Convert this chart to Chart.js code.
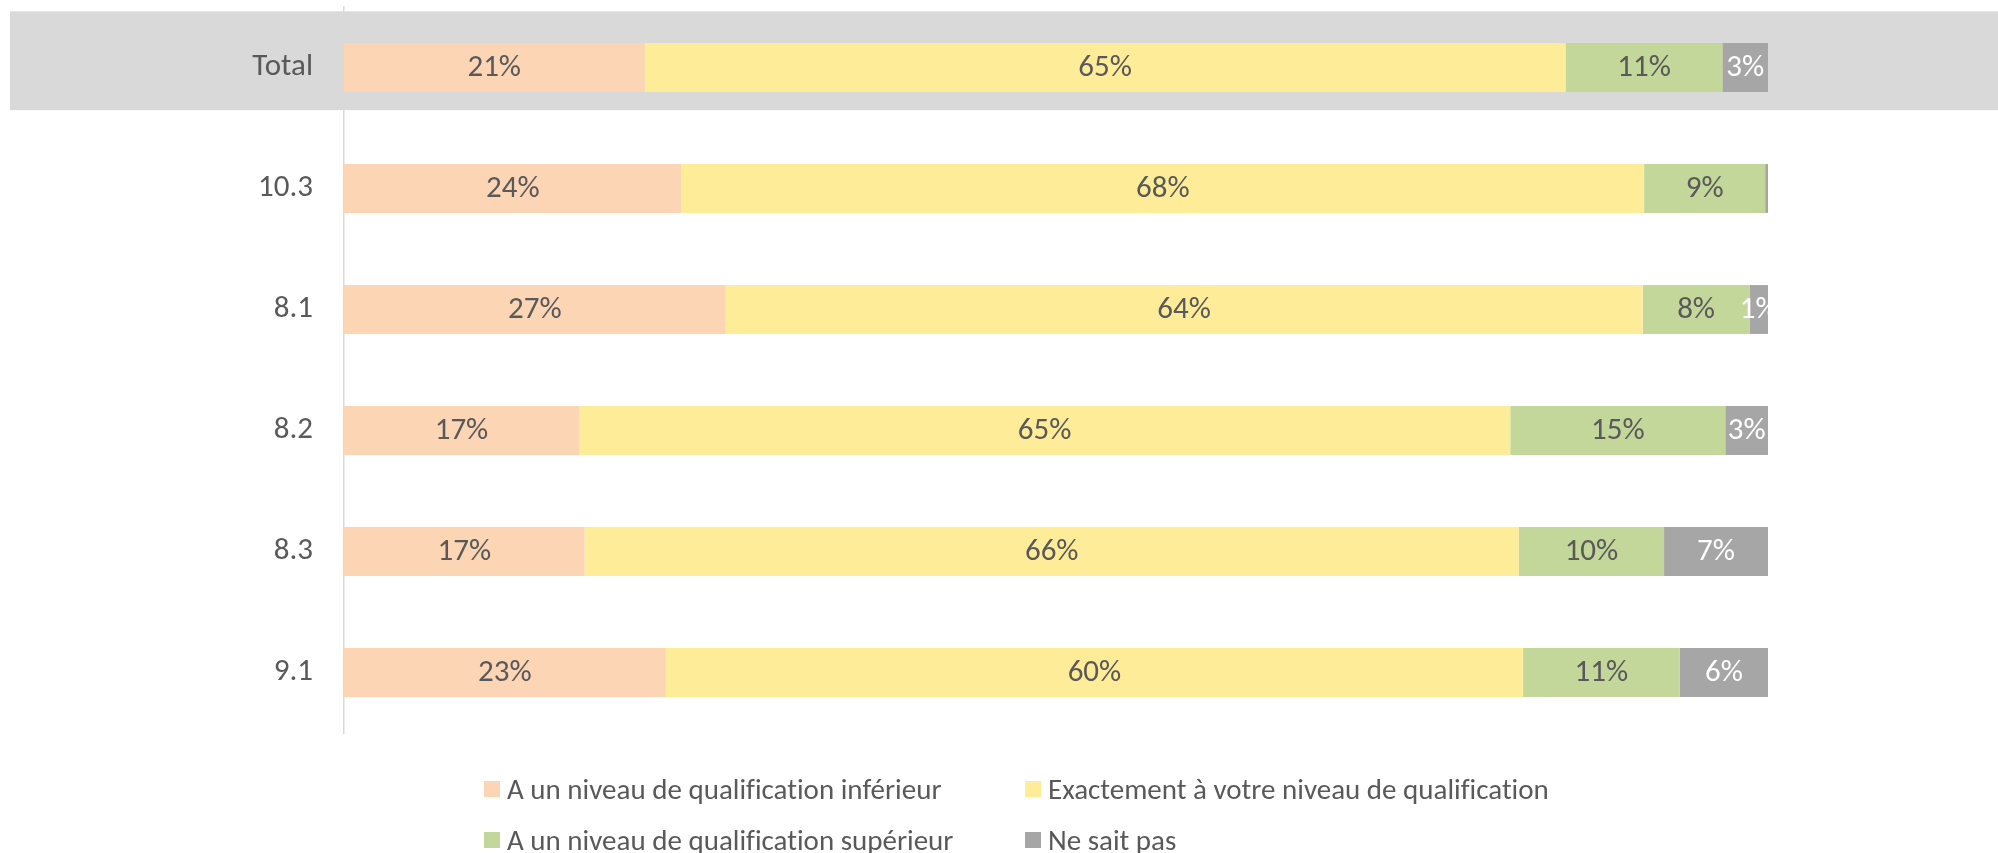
<!DOCTYPE html>
<html>
<head>
<meta charset="utf-8">
<script src="https://cdn.jsdelivr.net/npm/chart.js@4"></script>
<style>
  html, body { margin: 0; padding: 0; background: #fff; overflow: hidden; }
  #wrap { position: relative; width: 1998px; height: 853px; }
  #legende {
    position: absolute; left: 484px; top: 763px;
    display: grid; grid-template-columns: 541px auto; grid-auto-rows: 51px;
    font-family: Carlito, Lato, sans-serif; font-size: 29px; color: #595959;
    font-variant-ligatures: none;
  }
  #legende div { display: flex; align-items: center; white-space: nowrap; }
  #legende span.carre { width: 16px; height: 16px; margin-right: 7px; display: inline-block; }
</style>
</head>
<body>
<div id="wrap">
  <canvas id="graphique" width="1998" height="853"></canvas>
  <div id="legende"></div>
</div>
<script>
// Catégories (axe vertical)
var categories = ["Total", "10.3", "8.1", "8.2", "8.3", "9.1"];

// Séries (en % de chaque ligne)
var niveauInferieur  = [21.1, 23.7, 26.8, 16.5, 16.9, 22.6];
var niveauExact      = [64.7, 67.6, 64.4, 65.4, 65.6, 60.2];
var niveauSuperieur  = [11.0,  8.5,  7.5, 15.1, 10.2, 11.0];
var neSaitPas        = [ 3.2,  0.2,  1.3,  3.0,  7.3,  6.2];

var nomsSeries = [
    "A un niveau de qualification inférieur",
    "Exactement à votre niveau de qualification",
    "A un niveau de qualification supérieur",
    "Ne sait pas"
];
var couleurs = ["#FCD5B5", "#FFEC99", "#C4D79B", "#A6A6A6"];
var couleursEtiquettes = ["#595959", "#595959", "#595959", "#FFFFFF"];

var police = "Carlito, Lato, sans-serif";

// Bandeau gris derrière la ligne "Total"
var bandeauTotal = {
    id: 'bandeauTotal',
    beforeDraw: function(chart) {
        var ctx = chart.ctx;
        var y = chart.scales.y;
        var pas = (y.bottom - y.top) / categories.length;
        var centre = y.getPixelForValue(0);
        ctx.save();
        ctx.fillStyle = "#D9D9D9";
        ctx.fillRect(10, centre - 0.464 * pas, chart.width - 10, 0.816 * pas);
        ctx.restore();
    }
};

// Étiquettes de valeurs au centre de chaque segment
var etiquettes = {
    id: 'etiquettes',
    afterDatasetsDraw: function(chart) {
        var ctx = chart.ctx;
        var zone = chart.chartArea;
        ctx.save();
        ctx.beginPath();
        ctx.rect(zone.left, zone.top, zone.right - zone.left, zone.bottom - zone.top);
        ctx.clip();
        ctx.font = "31px " + police;
        ctx.textAlign = "center";
        ctx.textBaseline = "middle";
        chart.data.datasets.forEach(function(ds, i) {
            var meta = chart.getDatasetMeta(i);
            meta.data.forEach(function(barre, j) {
                var v = ds.data[j];
                if (v < 0.5) return;
                ctx.fillStyle = couleursEtiquettes[i];
                ctx.fillText(Math.round(v) + "%", (barre.x + barre.base) / 2, barre.y + 1);
            });
        });
        ctx.restore();
    }
};

var series = [niveauInferieur, niveauExact, niveauSuperieur, neSaitPas];

var graphique = new Chart(document.getElementById("graphique"), {
    type: 'bar',
    data: {
        labels: categories,
        datasets: series.map(function(s, i) {
            return {
                label: nomsSeries[i],
                data: s,
                backgroundColor: couleurs[i],
                borderWidth: 0,
                categoryPercentage: 1,
                barPercentage: 0.404
            };
        })
    },
    options: {
        indexAxis: 'y',
        responsive: false,
        animation: false,
        layout: { padding: { left: 0, right: 230, top: 7, bottom: 120 } },
        scales: {
            x: { stacked: true, min: 0, max: 100, display: false },
            y: {
                stacked: true,
                grid: { display: false, drawTicks: false },
                border: { display: true, color: "#D9D9D9", width: 1.5 },
                ticks: { color: "#595959", font: { family: police, size: 31 }, padding: 31 },
                afterFit: function(s) {
                    s.width = 344;
                    s.paddingTop = 0;
                    s.paddingBottom = 0;
                }
            }
        },
        plugins: {
            legend: { display: false },
            tooltip: { enabled: false }
        }
    },
    plugins: [bandeauTotal, etiquettes]
});

// Légende HTML en deux colonnes
var legende = document.getElementById("legende");
graphique.data.datasets.forEach(function(ds) {
    var item = document.createElement("div");
    var carre = document.createElement("span");
    carre.className = "carre";
    carre.style.background = ds.backgroundColor;
    item.appendChild(carre);
    item.appendChild(document.createTextNode(ds.label));
    legende.appendChild(item);
});
</script>
</body>
</html>
